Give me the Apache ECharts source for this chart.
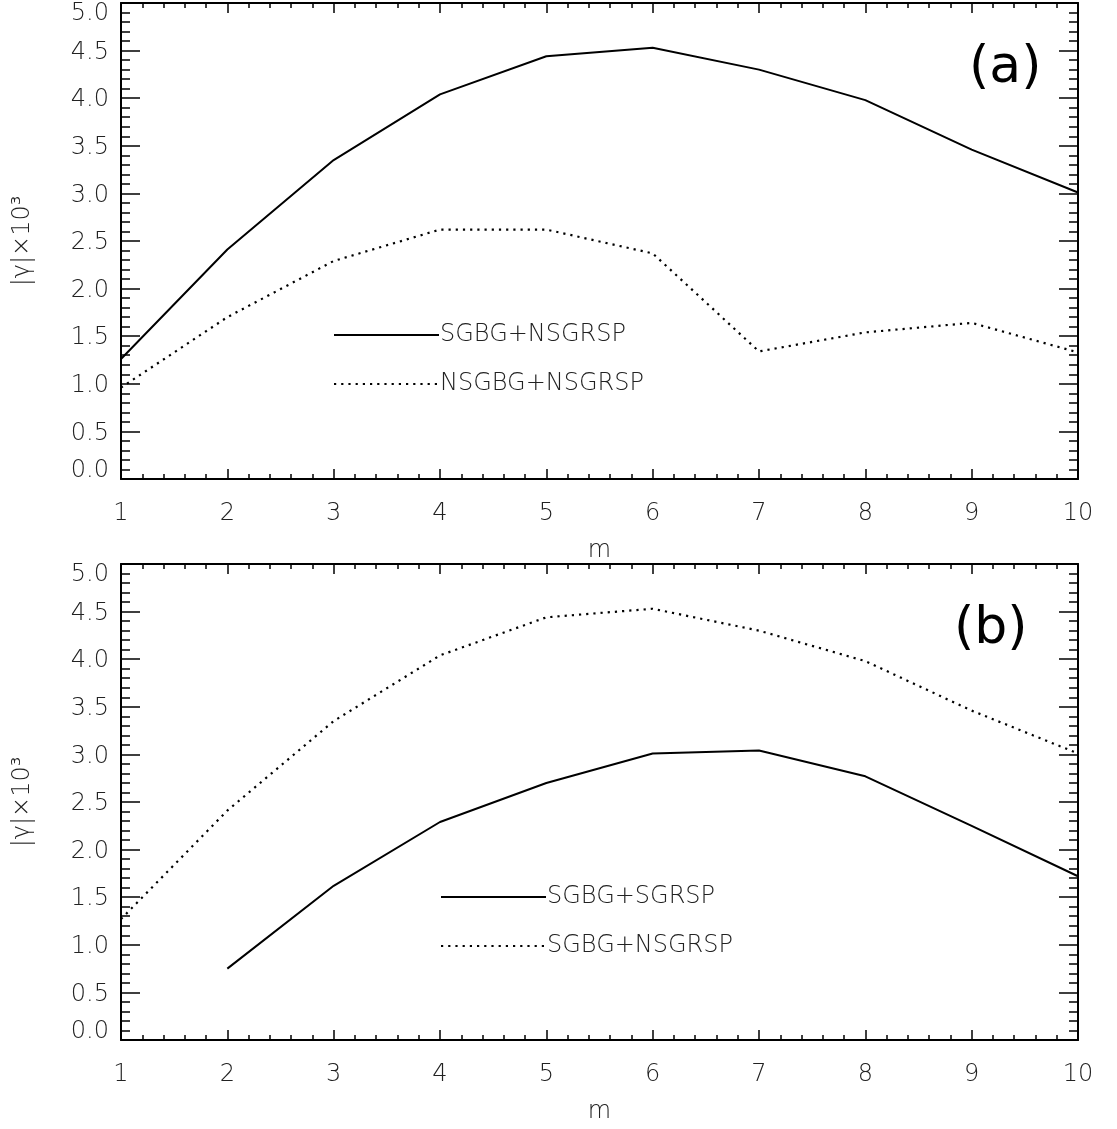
<!DOCTYPE html>
<html>
<head>
<meta charset="utf-8">
<script src="https://cdn.jsdelivr.net/npm/echarts@6/dist/echarts.min.js"></script>
<style>html,body{margin:0;padding:0;background:#fff;}#c{width:1117px;height:1129px;}</style>
</head>
<body>
<div id="c"></div>
<script>
const mVals = [1, 2, 3, 4, 5, 6, 7, 8, 9, 10];
const solidA = [1.26, 2.41, 3.35, 4.04, 4.44, 4.53, 4.30, 3.98, 3.46, 3.01];
const dottedA = [0.96, 1.70, 2.29, 2.62, 2.62, 2.37, 1.34, 1.54, 1.64, 1.33];
const solidB = [null, 0.75, 1.62, 2.29, 2.70, 3.01, 3.04, 2.77, 2.25, 1.72];
const dottedB = [1.27, 2.41, 3.35, 4.04, 4.44, 4.53, 4.30, 3.98, 3.46, 3.01];
const yTicks = ['0.0','0.5','1.0','1.5','2.0','2.5','3.0','3.5','4.0','4.5','5.0'];
const xTicks = ['1','2','3','4','5','6','7','8','9','10'];
const namesA = ['SGBG+NSGRSP', 'NSGBG+NSGRSP'];
const namesB = ['SGBG+SGRSP', 'SGBG+NSGRSP'];
const panelLabels = ['(a)', '(b)'];
const yName = '|γ|×10³';
const xName = 'm';

const FONT = '"DejaVu Sans ExtraLight", "DejaVu Sans", sans-serif';
const LBL = {fontFamily: FONT, fontWeight: 200, fontSize: 24, color: '#222'};
const pair = arr => arr.map((v, i) => v == null ? null : [mVals[i], v]).filter(p => p);

const grids = [
  {left: 121, right: 39, top: 3, height: 476, outerBoundsMode: 'none', containLabel: false},
  {left: 121, right: 39, top: 564, height: 476, outerBoundsMode: 'none', containLabel: false}
];

function xAx(gi, pos) {
  const main = pos === 'bottom';
  return {
    type: 'value', gridIndex: gi, position: pos, min: 1, max: 10, interval: 1,
    name: main ? xName : '', nameLocation: 'middle', nameGap: 60,
    nameTextStyle: LBL,
    axisLine: {onZero: false, lineStyle: {color: '#000', width: 2}},
    axisTick: {show: true, inside: true, length: 10, lineStyle: {color: '#000', width: 1.5}},
    minorTick: {show: true, splitNumber: 5, length: 5, lineStyle: {color: '#000', width: 1.5}},
    axisLabel: main ? Object.assign({show: true, margin: 23, formatter: v => xTicks[Math.round(v) - 1]}, LBL) : {show: false},
    splitLine: {show: false}
  };
}
const yRich = {
  t: Object.assign({padding: [22, 0, 0, 0]}, LBL),
  m: Object.assign({padding: [4, 0, 0, 0]}, LBL),
  b: Object.assign({padding: [0, 0, 16, 0]}, LBL)
};
function yFmt(v) {
  const i = Math.round(v * 2);
  const key = i === 10 ? 't' : (i === 0 ? 'b' : 'm');
  return '{' + key + '|' + yTicks[i] + '}';
}
function yAx(gi, pos) {
  const main = pos === 'left';
  return {
    type: 'value', gridIndex: gi, position: pos, min: 0, max: 5, interval: 0.5,
    name: main ? yName : '', nameLocation: 'middle', nameGap: 86, nameRotate: 90,
    nameTextStyle: LBL,
    axisLine: {onZero: false, lineStyle: {color: '#000', width: 2}},
    axisTick: {show: true, inside: true, length: 19, lineStyle: {color: '#000', width: 1.5}},
    minorTick: {show: true, splitNumber: 5, length: 9, lineStyle: {color: '#000', width: 1.5}},
    axisLabel: main ? Object.assign({show: true, margin: 12, formatter: yFmt, rich: yRich}, LBL) : {show: false},
    splitLine: {show: false}
  };
}

const solidStyle = {color: '#000', width: 2, type: 'solid'};
const dotStyle = {color: '#000', width: 2.2, type: [2.2, 5], cap: 'butt'};
const titleStyle = {fontFamily: '"DejaVu Sans", sans-serif', fontWeight: 'normal', fontSize: 52, color: '#000'};

const option = {
  animation: false,
  backgroundColor: '#fff',
  grid: grids,
  xAxis: [xAx(0, 'bottom'), xAx(0, 'top'), xAx(1, 'bottom'), xAx(1, 'top')],
  yAxis: [yAx(0, 'left'), yAx(0, 'right'), yAx(1, 'left'), yAx(1, 'right')],
  title: [
    {text: panelLabels[0], left: 969, top: 42, padding: 0, textStyle: titleStyle},
    {text: panelLabels[1], left: 954, top: 603, padding: 0, textStyle: titleStyle}
  ],
  series: [
    {name: namesA[0], type: 'line', xAxisIndex: 0, yAxisIndex: 0, data: pair(solidA), symbol: 'none', lineStyle: solidStyle, itemStyle: {color: '#000'}},
    {name: namesA[1], type: 'line', xAxisIndex: 0, yAxisIndex: 0, data: pair(dottedA), symbol: 'none', lineStyle: dotStyle, itemStyle: {color: '#000'}},
    {name: namesB[0], type: 'line', xAxisIndex: 2, yAxisIndex: 2, data: pair(solidB), symbol: 'none', lineStyle: solidStyle, itemStyle: {color: '#000'}},
    {name: namesB[1] + ' ', type: 'line', xAxisIndex: 2, yAxisIndex: 2, data: pair(dottedB), symbol: 'none', lineStyle: dotStyle, itemStyle: {color: '#000'}}
  ]
};
option.legend = [
  {left: 333, top: 321, data: [namesA[0], namesA[1]]},
  {left: 440, top: 883, data: [namesB[0], namesB[1] + ' ']}
].map(l => ({
  left: l.left, top: l.top, padding: 0, orient: 'vertical', itemWidth: 105, itemHeight: 14, itemGap: 21,
  selectedMode: false,
  itemStyle: {opacity: 0},
  textStyle: Object.assign({lineHeight: 28, padding: [0, 0, 0, -4]}, LBL),
  data: l.data
}));

const chart = echarts.init(document.getElementById('c'), null, {renderer: 'canvas'});
chart.setOption(option);
</script>
</body>
</html>
